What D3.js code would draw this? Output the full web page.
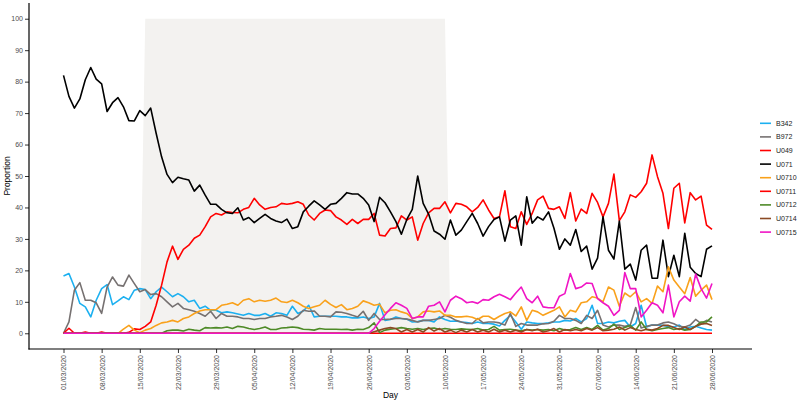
<!DOCTYPE html>
<html>
<head>
<meta charset="utf-8">
<script src="https://cdn.jsdelivr.net/npm/d3@7"></script>
<style>
  body { margin: 0; background: #fff; }
  svg { display: block; font-family: 'Liberation Sans', Arial, sans-serif; }
</style>
</head>
<body>
<svg id="chart" width="800" height="402"></svg>
<script>
const firstDay = '01/03/2020';
const lastDay = '28/06/2020';

const tickLabels = ['01/03/2020', '08/03/2020', '15/03/2020', '22/03/2020', '29/03/2020', '05/04/2020',
    '12/04/2020', '19/04/2020', '26/04/2020', '03/05/2020', '10/05/2020', '17/05/2020', '24/05/2020',
    '31/05/2020', '07/06/2020', '14/06/2020', '21/06/2020', '28/06/2020'];

const yTicks = [0, 10, 20, 30, 40, 50, 60, 70, 80, 90, 100];

const seriesNames = ['B342', 'B972', 'U049', 'U071', 'U0710', 'U0711', 'U0712', 'U0714', 'U0715'];
const seriesColors = ['#1cb0f0', '#767171', '#ff0000', '#000000', '#f9a11b', '#ff0000', '#4e8a27', '#8b4a24', '#f015c4'];

// shaded period, [date, proportion] corners
const shadeCorners = [['16/03/2020', 100], ['10/05/2020', 100], ['11/05/2020', 0], ['15/03/2020', 0]];

const b342 = [
    18.2, 19, 14.7, 9.5, 8.4, 5.2, 10.5, 14.2, 15.5, 9.1, 10.3, 11.6, 10.7, 13.7, 14.2, 13.9, 11, 13.2, 14.7, 13.2,
    11.6, 12.6, 11.6, 10, 10.5, 7.9, 8.6, 7.3, 7.3, 6.5, 6.8, 6.5, 6.1, 5.7, 6.3, 5.7, 5.7, 6.3, 5.4, 6.5,
    6.3, 5.7, 8.6, 6.3, 7.1, 8.9, 5.2, 5.4, 5.4, 5.4, 5.4, 5.2, 5.2, 4.9, 4.9, 5.2, 4.7, 5.2, 9.5, 4.1,
    4.4, 5.2, 4.7, 4.5, 3.6, 3.7, 4.1, 4.1, 3.6, 5.2, 4.4, 3.8, 3.9, 3.6, 3.4, 3.1, 3.6, 3.1, 3.1, 2.9,
    2.3, 4.1, 5.7, 3.6, 1.3, 3.6, 3.3, 3.1, 3.1, 3.3, 3.6, 3.6, 4.1, 3.9, 4.7, 3.6, 4.7, 8.9, 3.1, 3.1,
    3.6, 3.3, 3.8, 4.1, 2, 3.1, 8.9, 2, 2.6, 2.6, 2.5, 2.2, 2, 2.6, 1.2, 2, 2.2, 1.7, 1.2, 1
];
const b972 = [
    0, 3.6, 13.7, 16.1, 10.5, 10.5, 9.7, 6.3, 14.7, 17.9, 15.3, 15, 18.5, 15.8, 13.2, 13.9, 12.3, 12.6, 11.6, 10,
    8.4, 9.5, 7.9, 7.5, 7, 6.3, 5.4, 7, 4.7, 6.3, 5.4, 5.4, 5.2, 4.7, 4.7, 4.4, 4.7, 4.7, 5.2, 5.4,
    5.7, 5.2, 4.4, 5.4, 7.3, 7, 7.1, 5.4, 5.4, 5.2, 6.8, 6.7, 6.3, 5.7, 5.2, 7, 4.1, 6.3, 4.4, 4.4,
    4.5, 4.7, 4.7, 4.5, 4.1, 3.6, 4.1, 4.1, 4.4, 4.7, 5.7, 5.1, 4.1, 3.6, 3.1, 3.1, 4.7, 3.3, 3.6, 3.6,
    3.3, 2.6, 6.3, 2.2, 3.1, 2.6, 2.6, 2.6, 3, 3.1, 3.8, 5.7, 4.7, 4.7, 4.1, 3.1, 5.7, 4.7, 7.3, 2.6,
    2, 2.6, 2.6, 2.2, 2.6, 8.2, 1.7, 2.2, 2.6, 2.6, 3.3, 3.6, 3, 2.2, 2, 2.6, 4.4, 3.1, 4.1, 3.6
];
const u049 = [
    0, 1.6, 0, 0, 0.4, 0, 0, 0.4, 0, 0, 0, 0, 0.3, 1.4, 1.2, 2.2, 3.6, 8.9, 15.3, 22.7,
    27.7, 23.5, 26.7, 28, 30.2, 31.2, 33.9, 37, 38.1, 37.6, 38.6, 38.4, 38.3, 39.4, 40, 42.9, 40.8, 39.4, 40, 40.2,
    41.3, 41, 41.3, 41.8, 41, 37.6, 36, 38.1, 39.2, 39, 37, 36, 34.6, 36.2, 34.9, 36.2, 36.2, 38.1, 31.2, 30.9,
    33.3, 33.5, 37.3, 36, 37, 29.6, 34.9, 38.3, 39.7, 39.7, 41.8, 38.3, 41.3, 41, 40.2, 38.6, 40, 42.4, 39.2, 36.5,
    37, 45.3, 33.9, 33.3, 38.6, 34.6, 38.1, 42.4, 43.6, 39.7, 39.4, 40.2, 36.5, 44.7, 35.7, 39.5, 38.1, 44.5, 41.6, 37,
    41.3, 50.6, 35.8, 38.6, 44, 43.2, 45, 47.7, 56.7, 49.8, 44.5, 33.3, 46.1, 47.7, 35.1, 44.7, 42.4, 43.6, 34.4, 33
];
const u071 = [
    82, 75.3, 71.6, 74.5, 80.6, 84.5, 80.8, 79.3, 70.5, 73.3, 74.9, 72, 67.6, 67.5, 70.8, 69.2, 71.6, 63.6, 56.1, 50.5,
    47.9, 49.6, 49.1, 48.7, 45.2, 47.1, 43.9, 41, 41, 39.4, 38.3, 38.1, 39.9, 36, 36.8, 35.2, 36.5, 37.8, 36.5, 35.7,
    35.2, 36.3, 33.3, 33.9, 38.6, 40.4, 42.1, 40.8, 39.4, 41, 41.3, 42.9, 44.7, 44.3, 44.3, 42.9, 40.8, 35.5, 43.2, 41.5,
    38.6, 35.5, 31.5, 36.2, 39.4, 50, 41.3, 37.9, 32.5, 31.5, 29.9, 36, 31.2, 32.8, 35.5, 38.1, 34.9, 30.9, 33.9, 36.2,
    37, 29.3, 36, 37.3, 28, 43.4, 35, 37, 36, 38.6, 33.4, 26.7, 30, 28, 33, 26, 27.7, 20.4, 23.9, 37,
    26.4, 23.6, 35.7, 20.4, 22, 16.9, 26.4, 28, 17.5, 17.5, 29.6, 18, 24.8, 18, 31.8, 21, 19, 18, 26.7, 27.8
];
const u0710 = [
    0, 0, 0, 0, 0, 0, 0, 0, 0, 0, 0, 1.3, 2.5, 1, 0.2, 1, 1.5, 2.5, 3.3, 3.6,
    4.1, 3.6, 4.7, 5.2, 6.3, 7.1, 7.5, 7.5, 7.5, 8.9, 9.2, 9.7, 8.9, 10.5, 11, 10, 10.5, 10.2, 10.5, 11.2,
    10, 9.8, 10.5, 9.7, 8.6, 7.9, 8.4, 8.9, 10.5, 9.2, 8.2, 9.1, 7.5, 7.9, 8.6, 10.3, 9.7, 8.9, 9.2, 6.5,
    7.3, 7.5, 6.8, 6.3, 4.7, 5.2, 6.8, 7.1, 6.8, 7.1, 5.7, 5.7, 5.2, 5.2, 5.4, 5.1, 4.4, 5.4, 5.4, 4.4,
    5.4, 6.3, 6.8, 5.5, 8.4, 4.1, 7.3, 6.8, 5.7, 6.5, 7.3, 8.4, 5.2, 7.3, 6.8, 9.7, 10, 11.6, 11.2, 10,
    14.7, 13.7, 8.6, 12.8, 11.6, 13.2, 10, 11, 9.5, 15, 13.2, 21.1, 16.9, 14.7, 12.6, 17.7, 11.8, 13.7, 15.3, 10.7
];
const u0711 = [
    0, 0, 0, 0, 0, 0, 0, 0, 0, 0, 0, 0, 0, 0, 0, 0, 0, 0, 0, 0,
    0, 0, 0, 0, 0, 0, 0, 0, 0, 0, 0, 0, 0, 0, 0, 0, 0, 0, 0, 0,
    0, 0, 0, 0, 0, 0, 0, 0, 0, 0, 0, 0, 0, 0, 0, 0, 0, 0, 0, 0,
    0, 0, 0, 0, 0, 0, 0, 0, 0, 0, 0, 0, 0, 0, 0, 0, 0, 0, 0, 0,
    0, 0, 0, 0, 0, 0, 0, 0, 0, 0, 0, 0, 0, 0, 0, 0, 0, 0, 0, 0,
    0, 0, 0, 0, 0, 0, 0, 0, 0, 0, 0, 0, 0, 0, 0, 0, 0, 0, 0, 0
];
const u0712 = [
    0, 0, 0, 0, 0, 0, 0, 0, 0, 0, 0, 0, 0, 0, 0, 0, 0, 0, 0, 0.8,
    1, 1, 0.7, 1.3, 1, 0.8, 1.8, 1.7, 1.8, 1.7, 2, 1.5, 2.2, 2, 1.5, 1.2, 1.5, 2, 1.2, 1.2,
    1.7, 1.8, 2, 1.8, 1.3, 1.2, 1, 1.5, 1.3, 1.3, 1.3, 1.2, 1.3, 1, 1.3, 1.2, 1.8, 3.3, 0.2, 1,
    1.3, 1.5, 1.8, 1.5, 1.3, 1.5, 1.2, 1.5, 1.7, 1.2, 1.5, 1.3, 1.2, 1.4, 1.3, 1.2, 1.5, 1, 1.2, 2.2,
    1, 1.2, 1.3, 1, 0.8, 1.2, 1, 1.2, 1, 1.2, 0.8, 1.5, 1, 1.2, 1.8, 1.2, 1.8, 1.2, 2.5, 1,
    1.5, 2.9, 1.2, 1.8, 2.5, 1, 3.6, 1.2, 0.8, 1.2, 1.5, 1.8, 1.2, 1.5, 1, 1.2, 2.2, 3.6, 3.6, 5.2
];
const u0714 = [
    0, 0, 0, 0, 0, 0, 0, 0, 0, 0, 0, 0, 0, 0, 0, 0, 0, 0, 0, 0,
    0, 0, 0, 0, 0, 0, 0, 0, 0, 0, 0, 0, 0, 0, 0, 0, 0, 0, 0, 0,
    0, 0, 0, 0, 0, 0, 0, 0, 0, 0, 0, 0, 0, 0, 0, 0, 0, 0.5, 1, 1.5,
    1.8, 1.5, 0.4, 1.2, 0.4, 1.2, 0.4, 1.8, 0.7, 1.5, 0.4, 1, 0.2, 1, 0.4, 1.2, 0.4, 1, 0.4, 1.3,
    0.4, 1, 0.4, 1, 0.4, 1.2, 0.8, 1.3, 0.4, 0.8, 1.5, 0.4, 1.2, 0.8, 1.2, 0.8, 1.5, 1, 1.8, 0.8,
    1, 1.3, 2, 1, 1.8, 1.2, 0.8, 1.3, 1, 1.5, 2.5, 2.5, 1.8, 1.2, 2, 1.2, 2.2, 2.9, 3.1, 2.5
];
const u0715 = [
    0, 0, 0, 0, 0, 0, 0, 0, 0, 0, 0, 0, 0, 0, 0, 0, 0, 0, 0, 0,
    0, 0, 0, 0, 0, 0, 0, 0, 0, 0, 0, 0, 0, 0, 0, 0, 0, 0, 0, 0,
    0, 0, 0, 0, 0, 0, 0, 0, 0, 0, 0, 0, 0, 0, 0, 0, 0, 1.5, 3.8, 5.9,
    7.9, 9.7, 8.9, 7.9, 4.7, 5.2, 5.2, 8.6, 8.9, 10, 6.8, 10.5, 11.8, 11, 9.7, 10, 9.5, 10.7, 10.5, 11.6,
    12.4, 11.6, 10.7, 12.8, 14.7, 11, 9.7, 11.8, 8.4, 8.1, 8.1, 11.8, 12.6, 19, 14.2, 14.7, 16, 15.8, 11, 9.7,
    8.6, 5.7, 7.3, 19.3, 14.2, 14.2, 5.2, 7.3, 9.7, 8.9, 6.5, 15.3, 5.2, 10, 11.8, 10.2, 18.8, 14.2, 11.2, 15.8
];

const seriesValues = [b342, b972, u049, u071, u0710, u0711, u0712, u0714, u0715];

const parseDay = d3.utcParse('%d/%m/%Y');
const days = d3.utcDay.range(parseDay(firstDay), d3.utcDay.offset(parseDay(lastDay), 1));

const panel = { left: 29, right: 752, top: 3, bottom: 349 };

const svg = d3.select('#chart');

const xScale = d3.scaleUtc()
    .domain([days[0], days[days.length - 1]])
    .range([63.5, 712]);

const yScale = d3.scaleLinear()
    .domain([-5, 105])
    .range([panel.bottom, panel.top]);

// shaded period
svg.append('polygon')
    .attr('points', shadeCorners.map(c => [xScale(parseDay(c[0])), yScale(c[1])].join(',')).join(' '))
    .attr('fill', '#f3f2f0');

// lines
const line = d3.line()
    .x((d, i) => xScale(days[i]))
    .y(d => yScale(d));

const lineGroup = svg.append('g');
seriesValues.forEach((vals, k) => {
    lineGroup.append('path')
        .attr('d', line(vals))
        .attr('fill', 'none')
        .attr('stroke', seriesColors[k])
        .attr('stroke-width', 1.6)
        .attr('stroke-linejoin', 'round');
});

// axes
const yAxis = svg.append('g')
    .attr('transform', `translate(${panel.left}, 0)`)
    .call(d3.axisLeft(yScale).tickValues(yTicks).tickSize(4).tickSizeOuter(0).tickPadding(2));
yAxis.select('.domain').remove();
yAxis.selectAll('.tick line').attr('stroke', '#333');
yAxis.selectAll('text').attr('fill', '#4d4d4d').style('font-size', '7px');

const xAxis = svg.append('g')
    .attr('transform', `translate(0, ${panel.bottom})`)
    .call(d3.axisBottom(xScale)
        .tickValues(tickLabels.map(parseDay))
        .tickFormat(d3.utcFormat('%d/%m/%Y'))
        .tickSize(4)
        .tickSizeOuter(0));
xAxis.select('.domain').remove();
xAxis.selectAll('.tick line').attr('stroke', '#333');
xAxis.selectAll('text')
    .attr('fill', '#4d4d4d')
    .style('font-size', '7px')
    .attr('transform', 'rotate(-90)')
    .attr('text-anchor', 'end')
    .attr('x', -6)
    .attr('y', 0)
    .attr('dy', '0.35em');

svg.append('line')
    .attr('x1', panel.left).attr('x2', panel.left)
    .attr('y1', panel.top).attr('y2', panel.bottom + 0.5)
    .attr('stroke', '#000').attr('stroke-width', 1.2);
svg.append('line')
    .attr('x1', panel.left - 0.5).attr('x2', panel.right)
    .attr('y1', panel.bottom).attr('y2', panel.bottom)
    .attr('stroke', '#000').attr('stroke-width', 1.2);

// axis titles
svg.append('text')
    .attr('transform', `translate(10, ${(panel.top + panel.bottom) / 2}) rotate(-90)`)
    .attr('text-anchor', 'middle')
    .style('font-size', '8.5px')
    .attr('fill', '#000')
    .text('Proportion');

svg.append('text')
    .attr('x', (panel.left + panel.right) / 2)
    .attr('y', 398)
    .attr('text-anchor', 'middle')
    .style('font-size', '8.5px')
    .attr('fill', '#000')
    .text('Day');

// legend
const legend = svg.append('g').attr('transform', 'translate(760, 123.3)');
seriesNames.forEach((name, k) => {
    const row = legend.append('g').attr('transform', `translate(0, ${k * 13.6})`);
    row.append('line')
        .attr('x1', 0).attr('x2', 11)
        .attr('stroke', seriesColors[k])
        .attr('stroke-width', 1.6);
    row.append('text')
        .attr('x', 16)
        .attr('dy', '0.35em')
        .style('font-size', '7px')
        .attr('fill', '#222')
        .text(name);
});
</script>
</body>
</html>
